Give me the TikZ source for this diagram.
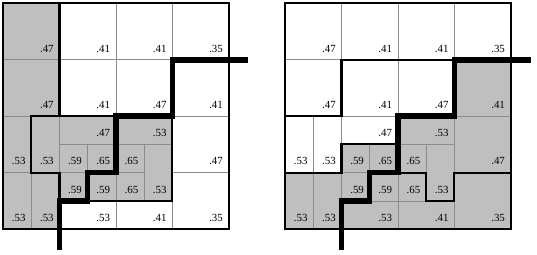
\documentclass[tikz,border=0pt]{standalone}
\usepackage{fontspec}
\setmainfont{Liberation Serif}
\usepackage{tikz}

% cells: x0/y0/x1/y1/value (y counted downwards)
\newcommand{\cellist}{0/0/2/2/.47, 2/0/4/2/.41, 4/0/6/2/.41, 6/0/8/2/.35,
  0/2/2/4/.47, 2/2/4/4/.41, 4/2/6/4/.47, 6/2/8/4/.41,
  0/4/1/6/.53, 1/4/2/6/.53, 2/4/4/5/.47, 2/5/3/6/.59, 3/5/4/6/.65,
  4/4/6/5/.53, 4/5/5/6/.65, 5/5/6/7/.53, 6/4/8/6/.47,
  0/6/1/8/.53, 1/6/2/8/.53, 2/6/3/7/.59, 3/6/4/7/.59, 4/6/5/7/.65,
  2/7/4/8/.53, 4/7/6/8/.41, 6/6/8/8/.35}

\begin{document}
\begin{tikzpicture}[x=1cm, y=-1cm,
    gridline/.style={draw=black!45, line width=0.6pt},
    bord/.style={draw=black, line width=2.2pt},
    cutline/.style={draw=black, line width=5.5pt},
    shade/.style={fill=black!25},
    val/.style={anchor=base east, inner sep=0pt, font=\fontsize{11}{13}\selectfont}]
            \useasboundingbox (-0.11,-0.12) rectangle (18.93,8.92);

            % gray regions
            \fill[shade] (0,0) -- (2,0) -- (2,4) -- (6,4) -- (6,7) -- (2,7) -- (2,8) -- (0,8) -- cycle;
            \fill[shade] (16,2) -- (18,2) -- (18,8) -- (10,8) -- (10,6) -- (12,6) -- (12,5) -- (14,5) -- (14,4) -- (16,4) -- cycle;

            % cells and values
            \foreach \g in {0,10} {
                \foreach \a/\b/\c/\d/\v in \cellist {
                    \draw[gridline] (\g+\a,\b) rectangle (\g+\c,\d);
                    \node[val] (v\g\a\b) at (\g+\c-0.2,\d-0.27) {\v};
                }
            }

            % region borders, left
            \draw[bord] (2,0) -- (2,4);
            \draw[bord] (1,4) -- (6,4) -- (6,7) -- (2,7) -- (2,6) -- (1,6) -- cycle;
            % region borders, right
            \draw[bord] (10,4) -- (12,4) -- (12,2) -- (18,2);
            \draw[bord] (14,5) -- (12,5) -- (12,6) -- (10,6);
            \draw[bord] (14,6) -- (15,6) -- (15,7) -- (16,7) -- (16,6) -- (18,6);

            \foreach \g in {0,10} {
                \draw[bord] (\g,0) rectangle (\g+8,8);
                \draw[cutline] (\g+8.7,2) -- (\g+6,2) -- (\g+6,4) -- (\g+4,4) -- (\g+4,6)
                    -- (\g+3,6) -- (\g+3,7) -- (\g+2,7) -- (\g+2,8.75);
            }
\end{tikzpicture}
\end{document}
